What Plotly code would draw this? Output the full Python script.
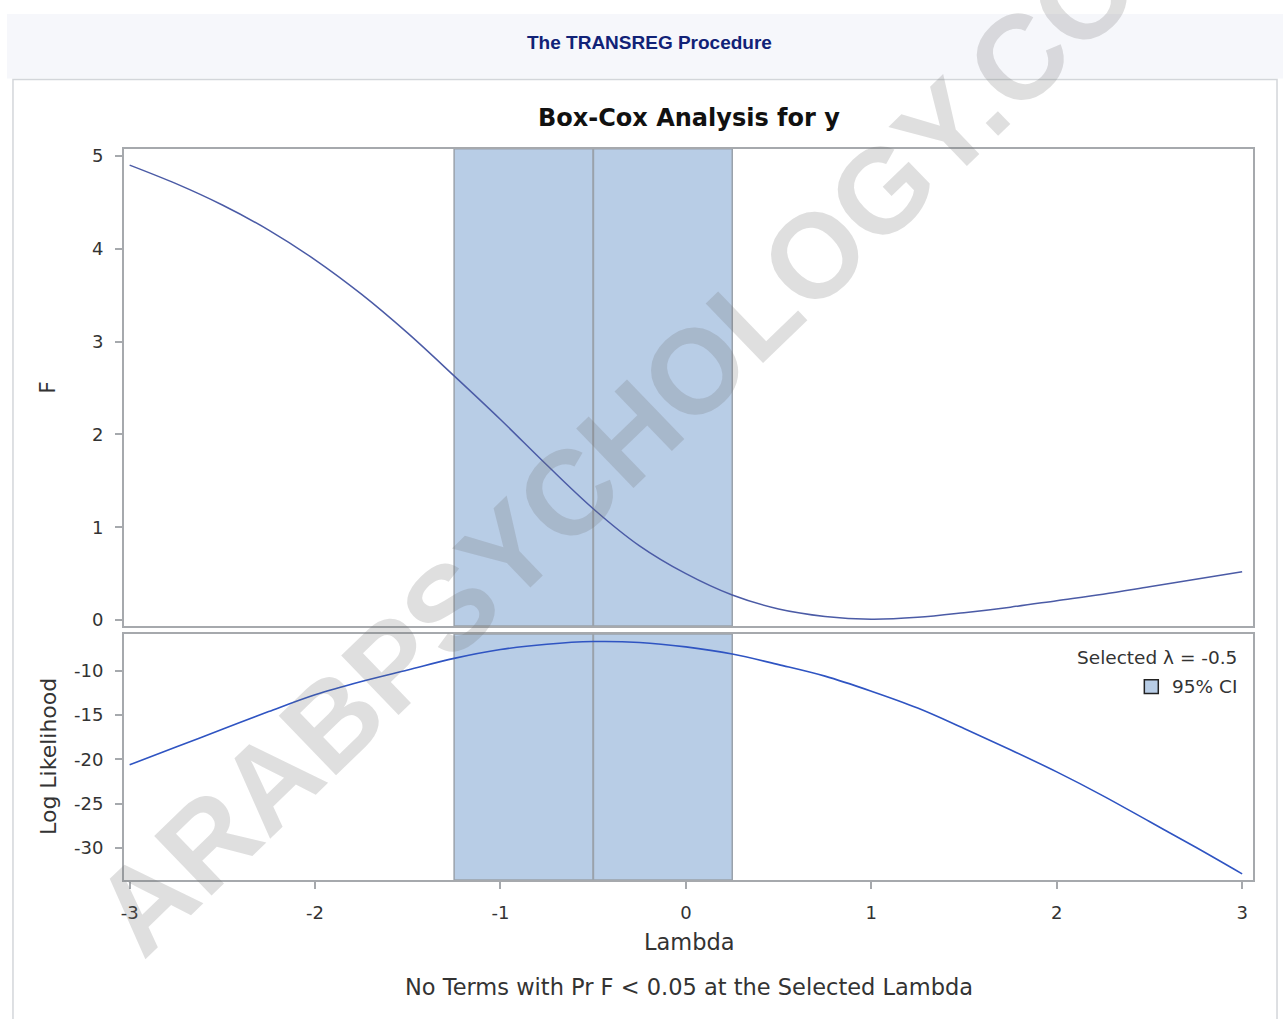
import plotly.graph_objects as go

# ---- data ----
lam = [-3, -2.75, -2.5, -2.25, -2, -1.75, -1.5, -1.25, -1, -0.75, -0.5, -0.25, 0,
       0.25, 0.5, 0.75, 1, 1.25, 1.5, 1.75, 2, 2.25, 2.5, 2.75, 3]
f_vals = [4.90, 4.70, 4.47, 4.20, 3.88, 3.51, 3.09, 2.63, 2.16, 1.67, 1.20, 0.80, 0.50,
          0.27, 0.12, 0.04, 0.01, 0.03, 0.08, 0.14, 0.21, 0.28, 0.36, 0.44, 0.52]
loglik = [-20.6, -18.6, -16.6, -14.6, -12.7, -11.2, -9.9, -8.6, -7.6, -7.0, -6.7, -6.8, -7.3,
          -8.1, -9.3, -10.6, -12.3, -14.2, -16.5, -18.9, -21.4, -24.1, -27.0, -29.9, -32.9]
ci_low, ci_high = -1.25, 0.25
selected = -0.5
x_ticks = [-3, -2, -1, 0, 1, 2, 3]
f_ticks = [0, 1, 2, 3, 4, 5]
ll_ticks = [-10, -15, -20, -25, -30]

W, H = 1285, 1019
def px(x): return x / W
def py(y): return 1 - y / H

FONT = "DejaVu Sans, Verdana, sans-serif"
HFONT = "Liberation Sans, Arial, sans-serif"
TXT = "#333333"
AX = "#a6a9ad"

fig = go.Figure()
fig.add_trace(go.Scatter(x=lam, y=f_vals, mode="lines", line=dict(color="#4b5ba6", width=1.5, shape="spline"),
                         xaxis="x", yaxis="y", showlegend=False, hoverinfo="skip"))
fig.add_trace(go.Scatter(x=lam, y=loglik, mode="lines", line=dict(color="#2f54c2", width=1.6, shape="spline"),
                         xaxis="x2", yaxis="y2", showlegend=False, hoverinfo="skip"))

shapes = []
# header band and frame
shapes.append(dict(type="rect", xref="paper", yref="paper", x0=px(4), x1=px(1283), y0=py(10), y1=py(75),
                   fillcolor="#f6f7fb", line=dict(width=0), layer="below"))
shapes.append(dict(type="rect", xref="paper", yref="paper", x0=px(10), x1=px(1277), y0=py(1025), y1=py(76),
                   fillcolor="white", line=dict(color="#d3d6da", width=1.5), layer="below"))
for xa, ya in (("x", "y"), ("x2", "y2")):
    shapes.append(dict(type="rect", xref=xa, yref=ya + " domain", x0=ci_low, x1=ci_high, y0=0, y1=1,
                       fillcolor="#b8cde6", line=dict(color="#9aa2ab", width=1.5), layer="below"))
    shapes.append(dict(type="line", xref=xa, yref=ya + " domain", x0=selected, x1=selected, y0=0, y1=1,
                       line=dict(color="#9aa2ab", width=2), layer="below"))
# legend swatch
shapes.append(dict(type="rect", xref="paper", yref="paper", x0=px(1144), x1=px(1158), y0=py(695), y1=py(681),
                   fillcolor="#b8cde6", line=dict(color="#222222", width=1.5)))

def ann(text, x, y, size, family=FONT, color=TXT, xanchor="center", angle=0):
    return dict(text=text, x=px(x), y=py(y), xref="paper", yref="paper", showarrow=False,
                xanchor=xanchor, yanchor="middle", textangle=angle,
                font=dict(family=family, size=size, color=color))

annotations = [
    ann("<b>The TRANSREG Procedure</b>", 648, 39, 19, HFONT, "#112277"),
    ann("<b>Box-Cox Analysis for y</b>", 688, 115, 24, FONT, "#111111"),
    ann("F", 45, 386, 22, angle=-90),
    ann("Log Likelihood", 45, 758, 22, angle=-90),
    ann("Lambda", 688, 945, 22.5),
    ann("No Terms with Pr F &lt; 0.05 at the Selected Lambda", 688, 991, 22.5),
    ann("Selected λ = -0.5", 1239, 659, 18.5, xanchor="right"),
    ann("95% CI", 1239, 688, 18.5, xanchor="right"),
    ann("<b>ARABPSYCHOLOGY.CO</b>", 614, 447, 120, HFONT, "rgba(110,110,110,0.22)", angle=-44),
]

axis_common = dict(showline=True, linecolor=AX, linewidth=1.5, mirror=True, showgrid=False, zeroline=False,
                   ticks="outside", ticklen=7, tickwidth=2, tickcolor=AX,
                   tickfont=dict(family=FONT, size=18, color=TXT))

fig.update_layout(
    width=W, height=H, margin=dict(l=0, r=0, t=0, b=0),
    paper_bgcolor="white", plot_bgcolor="rgba(0,0,0,0)",
    xaxis=dict(domain=[px(121), px(1253)], range=[-3.032, 3.059], anchor="y", showticklabels=False,
               **{**axis_common, "ticks": ""}, tickvals=x_ticks),
    yaxis=dict(domain=[py(627), py(146)], range=[-0.064, 5.075], anchor="x", tickvals=f_ticks,
               ticktext=[str(v) for v in f_ticks], ticklabelstandoff=8, **axis_common),
    xaxis2=dict(domain=[px(121), px(1253)], range=[-3.032, 3.059], anchor="y2", tickvals=x_ticks,
                ticktext=[str(v) for v in x_ticks], ticklabelstandoff=9, **axis_common),
    yaxis2=dict(domain=[py(883), py(635)], range=[-33.6, -5.85], anchor="x2", tickvals=ll_ticks,
                ticktext=[str(v) for v in ll_ticks], ticklabelstandoff=8, **axis_common),
    shapes=shapes, annotations=annotations,
)

fig.write_html("out.html", config={"displayModeBar": False},
               post_script="document.body.style.margin='0';document.body.style.overflow='hidden';")
